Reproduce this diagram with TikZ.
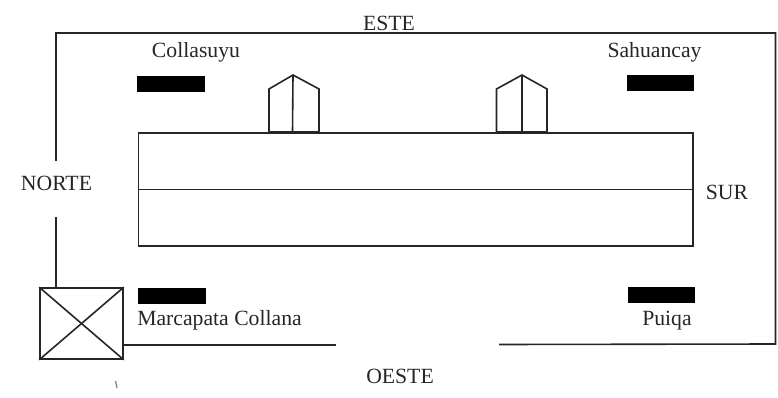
\documentclass[tikz,border=0pt]{standalone}
\usepackage{fontspec}
\setmainfont{Liberation Serif}
\definecolor{ink}{gray}{0.15}
\tikzset{
  wall/.style={draw=ink,line width=1.6pt},
  thin wall/.style={draw=ink,line width=1.6pt},
  bar/.style={fill=black,draw=none,minimum width=68pt,minimum height=16pt,inner sep=0pt},
  lbl/.style={text=ink,font=\fontsize{21.7pt}{24pt}\selectfont,inner sep=0pt}
}
\begin{document}
\begin{tikzpicture}[x=1pt,y=-1pt]
\useasboundingbox (0,0) rectangle (778,398);
% outer wall
\coordinate (wallN) at (56,161);
\coordinate (wallNE) at (56,33);
\coordinate (wallSE) at (775.5,33);
\coordinate (wallSW) at (775.5,344);
\coordinate (wallS) at (499,344.5);
\draw[wall] (wallN) -- (wallNE) -- (wallSE) -- (wallSW) -- (wallS);
% corner tower
\node[draw=ink,line width=1.6pt,minimum width=83pt,minimum height=71pt,inner sep=0pt] (tower) at (81.5,323.5) {};
\draw[wall] (tower.north west) -- (tower.south east);
\draw[wall] (tower.north east) -- (tower.south west);
\coordinate (wallW) at (56,217);
\draw[wall] (wallW) -- (wallW |- tower.north);
\coordinate (wallO) at (336,345);
\draw[wall] (wallO -| tower.east) -- (wallO);
% main hall
\node[draw=ink,line width=1.6pt,minimum width=554.5pt,minimum height=113pt,inner sep=0pt] (hall) at (415.75,189.5) {};
\draw[thin wall] (hall.west) -- (hall.east);
% gates
\draw[wall,line join=miter] (269,132) -- (269,89) -- (293,75) -- (319,89) -- (319,132) -- cycle;
\draw[wall] (293,75) -- (292.5,132);
\draw[wall,line join=miter] (496.5,132) -- (496.5,89) -- (522,75) -- (547,89) -- (547,132) -- cycle;
\draw[wall] (522,75) -- (522,132);
% bars
\node[bar] (barC) at (171,84) {};
\node[bar,minimum width=67pt] (barS) at (660,83.5) {};
\node[bar] (barM) at (172,296) {};
\node[bar,minimum width=67.5pt] (barP) at (661.5,295) {};
% labels
\node[lbl] (este) at (389,23.5) {ESTE};
\node[lbl] (collasuyu) at (196,52.5) {Collasuyu};
\node[lbl] (sahuancay) at (654.5,52.5) {Sahuancay};
\node[lbl] (norte) at (56.5,183) {NORTE};
\node[lbl] (sur) at (727,192) {SUR};
\node[lbl] (marcapata) at (219.5,320.5) {Marcapata Collana};
\node[lbl] (puiqa) at (667,320.5) {Puiqa};
\node[lbl] (oeste) at (400,376) {OESTE};
% stray mark
\draw[draw=ink!60,line width=1.2pt] (115.5,381) -- (117,388);
\end{tikzpicture}
\end{document}
